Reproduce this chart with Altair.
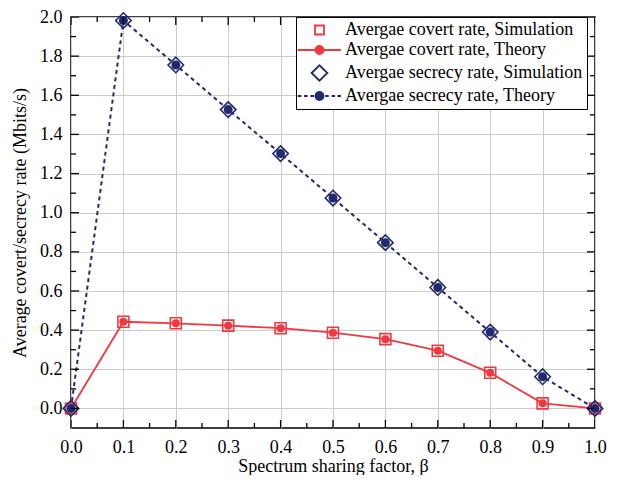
import altair as alt
import pandas as pd

# ---- data ----
beta = [0.0, 0.1, 0.2, 0.3, 0.4, 0.5, 0.6, 0.7, 0.8, 0.9, 1.0]
covert = [0.0, 0.443, 0.435, 0.423, 0.410, 0.387, 0.354, 0.295, 0.182, 0.026, 0.0]
secrecy = [0.0, 1.982, 1.755, 1.527, 1.302, 1.075, 0.847, 0.618, 0.390, 0.162, 0.0]

series_names = [
    "Avergae covert rate, Simulation",
    "Avergae covert rate, Theory",
    "Avergae secrecy rate, Simulation",
    "Avergae secrecy rate, Theory",
]

x_major = [0.0, 0.1, 0.2, 0.3, 0.4, 0.5, 0.6, 0.7, 0.8, 0.9, 1.0]
x_minor = [0.05, 0.15, 0.25, 0.35, 0.45, 0.55, 0.65, 0.75, 0.85, 0.95]
y_major = [0.0, 0.2, 0.4, 0.6, 0.8, 1.0, 1.2, 1.4, 1.6, 1.8, 2.0]
y_minor = [0.1, 0.3, 0.5, 0.7, 0.9, 1.1, 1.3, 1.5, 1.7, 1.9]
x_range = [0.0, 1.0]
y_range = [-0.1, 2.0]

x_title = "Spectrum sharing factor, β"
y_title = "Average covert/secrecy rate (Mbits/s)"

RED = "#F0393F"
NAVY = "#222A6F"
FONT = "Liberation Serif"
FS = 18
W, H = 524, 411

df = pd.DataFrame({"beta": beta, "covert": covert, "secrecy": secrecy})
leg_df = pd.DataFrame({"series": series_names})

xs = alt.Scale(domain=x_range, nice=False, zero=False)
ys = alt.Scale(domain=y_range, nice=False, zero=False)

x_axis = alt.Axis(
    orient="bottom", values=x_major, domain=False, ticks=False, tickSize=0,
    grid=True, gridColor="#cccccc", gridWidth=1,
    format=".1f", labelFont=FONT, labelFontSize=FS, labelColor="black",
    labelFlush=False, labelOverlap=False, labelBound=False, labelPadding=10,
    title=x_title, titleFont=FONT, titleFontSize=FS, titleFontWeight="normal",
    titleColor="black", titlePadding=1,
)
y_axis = alt.Axis(
    orient="left", values=y_major, domain=False, ticks=False, tickSize=0,
    grid=True, gridColor="#cccccc", gridWidth=1,
    format=".1f", labelFont=FONT, labelFontSize=FS, labelColor="black",
    labelFlush=False, labelOverlap=False, labelBound=False, labelPadding=9,
    title=y_title, titleFont=FONT, titleFontSize=FS, titleFontWeight="normal",
    titleColor="black", titlePadding=10,
)

line_c = alt.Chart(df).mark_line(color=RED, strokeWidth=1.8).encode(
    x=alt.X("beta:Q", scale=xs, axis=x_axis),
    y=alt.Y("covert:Q", scale=ys, axis=y_axis),
)


def Xn(field):
    return alt.X(field, type="quantitative", scale=xs, axis=None)


def Yn(field):
    return alt.Y(field, type="quantitative", scale=ys, axis=None)


line_s = alt.Chart(df).mark_line(color=NAVY, strokeWidth=2, strokeDash=[4, 3.5]).encode(
    x=Xn("beta"), y=Yn("secrecy"))
sq = alt.Chart(df).mark_point(shape="square", size=121, filled=False, color=RED,
                              strokeWidth=1.6, opacity=1).encode(x=Xn("beta"), y=Yn("covert"))
cc = alt.Chart(df).mark_point(shape="circle", size=64, filled=True, color=RED,
                              opacity=1).encode(x=Xn("beta"), y=Yn("covert"))
dm = alt.Chart(df).mark_point(shape="diamond", size=240, filled=False, color=NAVY,
                              strokeWidth=1.6, opacity=1).encode(x=Xn("beta"), y=Yn("secrecy"))
sc = alt.Chart(df).mark_point(shape="circle", size=81, filled=True, color=NAVY,
                              opacity=1).encode(x=Xn("beta"), y=Yn("secrecy"))


# inward axis ticks: ticks centred on the frame, clipped to the plot area
def x_ticks(values, length, edge):
    return alt.Chart(pd.DataFrame({"v": values})).mark_tick(
        orient="vertical", size=2 * length, thickness=1.3, color="black",
        opacity=1, clip=True,
    ).encode(x=alt.X("v:Q", scale=xs, axis=None), y=alt.datum(edge, scale=ys, axis=None))


def y_ticks(values, length, edge):
    return alt.Chart(pd.DataFrame({"v": values})).mark_tick(
        orient="horizontal", size=2 * length, thickness=1.3, color="black",
        opacity=1, clip=True,
    ).encode(y=alt.Y("v:Q", scale=ys, axis=None), x=alt.datum(edge, scale=xs, axis=None))


tick_layers = [
    x_ticks(x_major, 8, y_range[0]), x_ticks(x_minor, 5, y_range[0]),
    x_ticks(x_major, 8, y_range[1]), x_ticks(x_minor, 5, y_range[1]),
    y_ticks(y_major, 8, x_range[0]), y_ticks(y_minor, 5, x_range[0]),
    y_ticks(y_major, 8, x_range[1]), y_ticks(y_minor, 5, x_range[1]),
]

# legend symbols (unit = 4.5 px)
sym_square = "M1.33,-1H3.33V1H1.33Z"
sym_line_dot = "M-2.5,0H7.1M1.43,0A0.9,0.9 0 1,0 3.23,0A0.9,0.9 0 1,0 1.43,0Z"
sym_diamond = "M0.58,0L2.33,-1.7L4.08,0L2.33,1.7Z"
sym_dash_dot = ("M-2.5,0H-1.7M-1.1,0H-0.3M0.3,0H1.1"
                "M1.43,0A0.9,0.9 0 1,0 3.23,0A0.9,0.9 0 1,0 1.43,0Z"
                "M3.6,0H4.4M5.0,0H5.8M6.3,0H7.1")

legend = alt.Legend(
    title=None, orient="none", legendX=225, legendY=0,
    symbolSize=81, symbolStrokeWidth=1.8, symbolOpacity=1,
    labelFont=FONT, labelFontSize=FS, labelColor="black", labelOffset=27,
    labelLimit=400, padding=4, rowPadding=2,
    strokeColor="black", fillColor="white",
)
leg = alt.Chart(leg_df).mark_point(size=81, strokeWidth=1.8, opacity=1).encode(
    shape=alt.Shape("series:N", scale=alt.Scale(
        domain=series_names, range=[sym_square, sym_line_dot, sym_diamond, sym_dash_dot]),
        legend=legend),
    stroke=alt.Stroke("series:N", scale=alt.Scale(
        domain=series_names, range=[RED, RED, NAVY, NAVY]), legend=legend),
    fill=alt.Fill("series:N", scale=alt.Scale(
        domain=series_names, range=["transparent", RED, "transparent", NAVY]), legend=legend),
).transform_filter("false")

chart = (
    alt.layer(line_c, line_s, sq, cc, dm, sc, *tick_layers, leg)
    .resolve_axis(x="independent", y="independent")
    .properties(
        width=W, height=H,
        autosize=alt.AutoSizeParams(type="none"),
        padding={"left": 63, "top": 9, "right": 17, "bottom": 47},
        background="white",
    )
    .configure_view(stroke="black", strokeWidth=1.5)
)

chart.save("out.html", embed_options={"renderer": "svg", "actions": False})
